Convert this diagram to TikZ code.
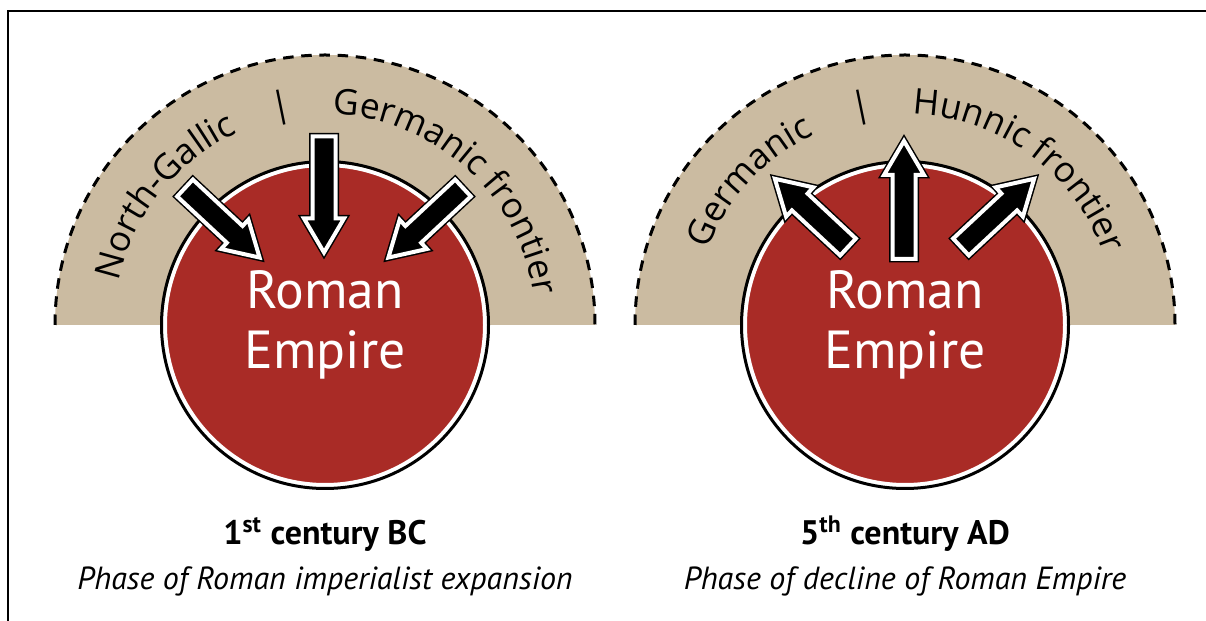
\documentclass[tikz,border=0pt]{standalone}
\usepackage{fontspec}
\setmainfont{PT Sans}
\newfontfamily\arcfont{Open Sans}
\usepackage{tikz}
\usetikzlibrary{calc}
\usetikzlibrary{decorations.text}
\definecolor{romered}{HTML}{A92B26}
\definecolor{frontierbeige}{HTML}{CBBBA1}
\newcommand{\ArcLabelFont}{\arcfont\fontsize{17.7pt}{20pt}\selectfont}
\newcommand{\FatArrow}[3]{\draw[fatarrow, shift={#1}, rotate=#2] (0,-11.5) -- (#3-34,-11.5) -- (#3-34,-20) -- (#3,0) -- (#3-34,20) -- (#3-34,11.5) -- (0,11.5) -- cycle;}

\begin{document}
\begin{tikzpicture}[x=0.5pt,y=0.5pt,
  romecircle/.style={circle, fill=romered, draw=white, line width=2pt, minimum size=160pt, inner sep=0pt,
    text=white, align=center, font=\fontsize{26.8pt}{30pt}\selectfont},
  rimline/.style={draw=black, line width=1.5pt},
  frontier/.style={fill=frontierbeige},
  frontierline/.style={draw=black, line width=1.5pt, dash pattern=on 5.25pt off 3.85pt},
  fatarrow/.style={fill=black, draw=black, double=white, double distance=2pt, line width=0.75pt, line join=miter},
  arclabel/.style={decorate, decoration={text along path, text={|\ArcLabelFont|#1}}},
  sepbar/.style={inner sep=0pt, font=\ArcLabelFont},
  titletext/.style={anchor=base, font=\fontsize{17pt}{20pt}\selectfont\bfseries},
  subtext/.style={anchor=base, font=\fontsize{16pt}{19pt}\selectfont\itshape}]

  \useasboundingbox (0,0) rectangle (1206,621);
  \draw[line width=0.65pt] (8,0) -- (8,610) -- (1206,610);

  \coordinate (ca) at (325,296);
  \coordinate (cb) at (905,296);

  % frontier bands
  \fill[frontier] (ca) ++(0:270) arc[start angle=0, end angle=180, radius=270] -- cycle;
  \draw[frontierline] (ca) ++(180:270) arc[start angle=180, end angle=0, radius=270];
  \fill[frontier] (cb) ++(0:270) arc[start angle=0, end angle=180, radius=270] -- cycle;
  \draw[frontierline] (cb) ++(180:270) arc[start angle=180, end angle=0, radius=270];

  \path[arclabel=North-Gallic] (ca) ++(168:211) arc[start angle=168, end angle=100, radius=211];
  \path[arclabel=Germanic frontier] (ca) ++(88:211) arc[start angle=88, end angle=-10, radius=211];
  \node[sepbar, rotate=11.5] (bara) at ($(ca)+(101.5:222)$) {|};
  \path[arclabel=Germanic] (cb) ++(159:211) arc[start angle=159, end angle=100, radius=211];
  \path[arclabel=Hunnic frontier] (cb) ++(88:211) arc[start angle=88, end angle=-10, radius=211];
  \node[sepbar, rotate=11.5] (barb) at ($(cb)+(101.5:222)$) {|};

  % empire
  \node[romecircle] (ra) at (ca) {Roman\\Empire};
  \draw[rimline] (ra.center) circle[radius=163.5];
  \node[romecircle] (rb) at (cb) {Roman\\Empire};
  \draw[rimline] (rb.center) circle[radius=163.5];

  % pressure inwards / outwards
  \FatArrow{(185,433)}{-43}{102}
  \FatArrow{(324,484.5)}{-90}{116}
  \FatArrow{(463,433)}{223}{102}
  \FatArrow{(848,374)}{137}{100}
  \FatArrow{(904,362)}{90}{118}
  \FatArrow{(961,374)}{43}{100}

  \node[titletext] (ta) at (325,76) {1\textsuperscript{st} century BC};
  \node[subtext] (sa) at (325,31) {Phase of Roman imperialist expansion};
  \node[titletext] (tb) at (905,76) {5\textsuperscript{th} century AD};
  \node[subtext] (sb) at (905,31) {Phase of decline of Roman Empire};
\end{tikzpicture}
\end{document}
